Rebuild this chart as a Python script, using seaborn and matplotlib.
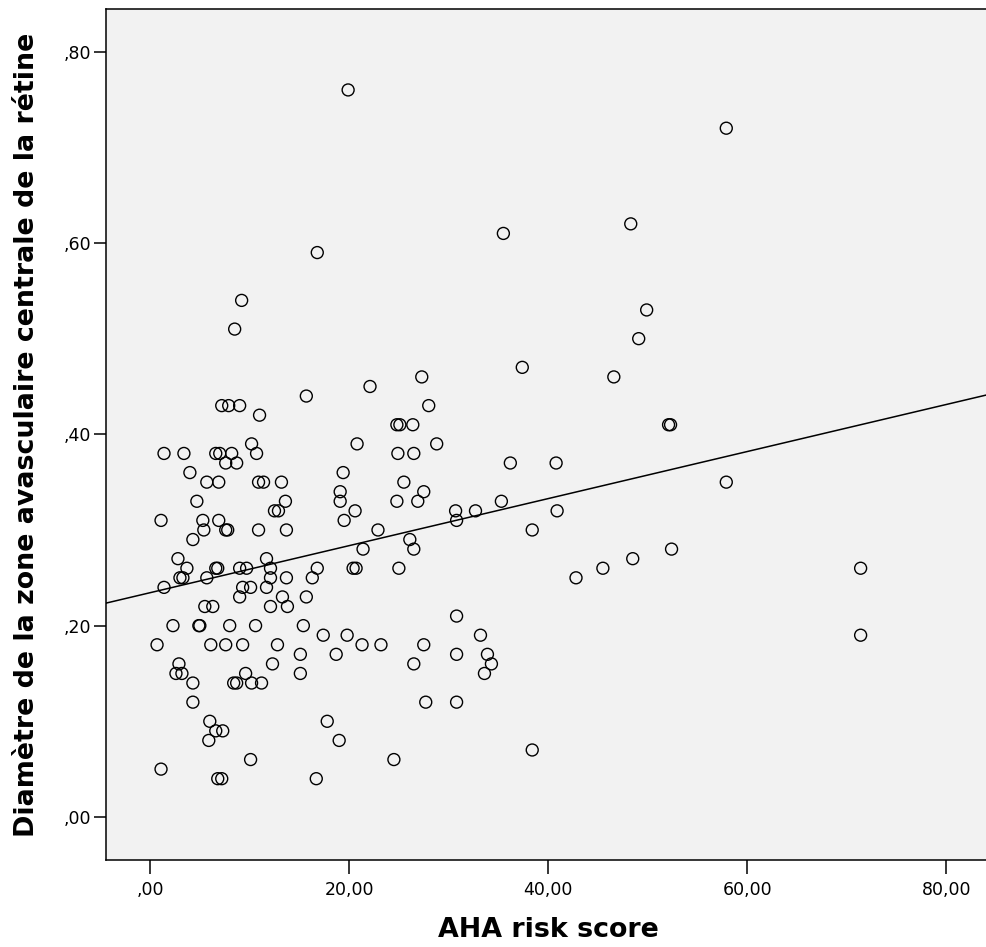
import matplotlib
matplotlib.use("Agg")
import matplotlib.pyplot as plt
import seaborn as sns
import numpy as np
import pandas as pd

# AHA risk score (x) and retina avascular zone diameter (y)
aha_score = [
    9.2, 8.5, 7.2, 7.9, 9.0, 11.0, 10.2,
    1.4, 3.4, 6.6, 7.0, 8.2, 10.7,
    7.6, 8.7, 4.0,
    5.7, 6.9, 10.9, 11.4, 13.2,
    4.7, 13.6, 12.5, 12.9, 1.1, 5.3, 6.9,
    5.4, 7.6, 7.8, 10.9, 13.7, 4.3,
    2.8, 3.7, 3.0, 3.3, 1.4, 5.7, 6.6, 6.8, 9.0, 9.7, 11.7, 12.1, 12.1, 13.7,
    9.3, 10.1, 9.0, 11.7, 13.3, 12.1, 13.8, 5.5, 6.3,
    2.3, 4.9, 5.0, 8.0, 10.6,
    0.7, 6.1, 7.6, 9.3, 12.8,
    12.3, 2.9, 2.6, 3.2, 4.3, 8.4, 8.7, 9.6, 10.2, 11.2,
    4.3, 6.0, 6.6, 7.3, 5.9, 10.1, 1.1, 6.8, 7.2,
    19.1, 24.8, 26.9, 27.5, 20.6, 19.5, 30.7, 30.8, 22.9, 26.1, 26.5, 21.4,
    16.8, 20.4, 20.7, 25.0, 16.3, 15.7, 15.4, 17.4, 19.8, 21.3, 23.2, 18.7,
    15.1, 15.1, 27.5, 26.5, 30.8, 30.8, 27.7, 30.8, 17.8, 19.0, 24.5, 16.7,
    27.3, 22.1, 15.7, 28.0, 24.8, 25.1, 26.4, 20.8, 28.8, 24.9, 26.5, 19.4,
    25.5, 19.1,
    35.5, 48.3, 49.9, 49.1, 37.4, 46.6, 52.1, 52.3, 36.2, 40.8, 35.3, 32.7,
    40.9, 38.4, 42.8, 45.5, 48.5, 52.4,
    33.2, 33.9, 34.3, 33.6, 38.4,
    57.9, 57.9, 71.4, 71.4, 19.9, 16.8,
]
diametre = [
    0.54, 0.51, 0.43, 0.43, 0.43, 0.42, 0.39,
    0.38, 0.38, 0.38, 0.38, 0.38, 0.38,
    0.37, 0.37, 0.36,
    0.35, 0.35, 0.35, 0.35, 0.35,
    0.33, 0.33, 0.32, 0.32, 0.31, 0.31, 0.31,
    0.30, 0.30, 0.30, 0.30, 0.30, 0.29,
    0.27, 0.26, 0.25, 0.25, 0.24, 0.25, 0.26, 0.26, 0.26, 0.26, 0.27, 0.26, 0.25, 0.25,
    0.24, 0.24, 0.23, 0.24, 0.23, 0.22, 0.22, 0.22, 0.22,
    0.20, 0.20, 0.20, 0.20, 0.20,
    0.18, 0.18, 0.18, 0.18, 0.18,
    0.16, 0.16, 0.15, 0.15, 0.14, 0.14, 0.14, 0.15, 0.14, 0.14,
    0.12, 0.10, 0.09, 0.09, 0.08, 0.06, 0.05, 0.04, 0.04,
    0.33, 0.33, 0.33, 0.34, 0.32, 0.31, 0.32, 0.31, 0.30, 0.29, 0.28, 0.28,
    0.26, 0.26, 0.26, 0.26, 0.25, 0.23, 0.20, 0.19, 0.19, 0.18, 0.18, 0.17,
    0.17, 0.15, 0.18, 0.16, 0.21, 0.17, 0.12, 0.12, 0.10, 0.08, 0.06, 0.04,
    0.46, 0.45, 0.44, 0.43, 0.41, 0.41, 0.41, 0.39, 0.39, 0.38, 0.38, 0.36,
    0.35, 0.34,
    0.61, 0.62, 0.53, 0.50, 0.47, 0.46, 0.41, 0.41, 0.37, 0.37, 0.33, 0.32,
    0.32, 0.30, 0.25, 0.26, 0.27, 0.28,
    0.19, 0.17, 0.16, 0.15, 0.07,
    0.72, 0.35, 0.26, 0.19, 0.76, 0.59,
]

x_ticks = [0, 20, 40, 60, 80]
x_tick_labels = [",00", "20,00", "40,00", "60,00", "80,00"]
y_ticks = [0.0, 0.2, 0.4, 0.6, 0.8]
y_tick_labels = [",00", ",20", ",40", ",60", ",80"]

x_label = "AHA risk score"
y_label = "Diamètre de la zone avasculaire centrale de la rétine"

df = pd.DataFrame({"aha": aha_score, "diam": diametre})

sns.set_style("white")
plt.rcParams["font.family"] = ["DejaVu Sans"]
plt.rcParams["text.color"] = "black"
plt.rcParams["axes.labelcolor"] = "black"

W, H = 986, 947
fig = plt.figure(figsize=(W / 100, H / 100), dpi=100, facecolor="white")
ax = fig.add_axes([105.7 / W, 1 - 860 / H, 885.3 / W, (860 - 9.3) / H])
ax.set_facecolor("#f2f2f2")

ax.set_xlim(-4.46, 84.5)
ax.set_ylim(-0.045, 0.8443)

sns.regplot(
    data=df, x="aha", y="diam", ax=ax, ci=None, truncate=False, color="black",
    scatter_kws={"facecolors": "none", "edgecolors": "black", "s": 74,
                 "linewidths": 1.0, "alpha": 1},
    line_kws={"linewidth": 1.1, "color": "black"},
)

ax.set_xlim(-4.46, 84.5)
ax.set_ylim(-0.045, 0.8443)

ax.set_xticks(x_ticks)
ax.set_xticklabels(x_tick_labels)
ax.set_yticks(y_ticks)
ax.set_yticklabels(y_tick_labels)

ax.tick_params(axis="x", direction="out", length=10, width=1.1, pad=5,
               labelsize=12.5, colors="black", labelcolor="black", bottom=True)
ax.tick_params(axis="y", direction="out", length=8.5, width=1.1, pad=2,
               labelsize=12.5, colors="black", labelcolor="black", left=True)

for side in ["left", "top", "bottom"]:
    ax.spines[side].set_visible(True)
    ax.spines[side].set_color("black")
    ax.spines[side].set_linewidth(1.1)
ax.spines["right"].set_visible(False)

ax.set_xlabel(x_label, fontsize=19.4, fontweight="bold", labelpad=13, color="black")
ax.set_ylabel(y_label, fontsize=19.4, fontweight="bold", labelpad=17, color="black")

fig.savefig("out.png", dpi=100, facecolor="white")
